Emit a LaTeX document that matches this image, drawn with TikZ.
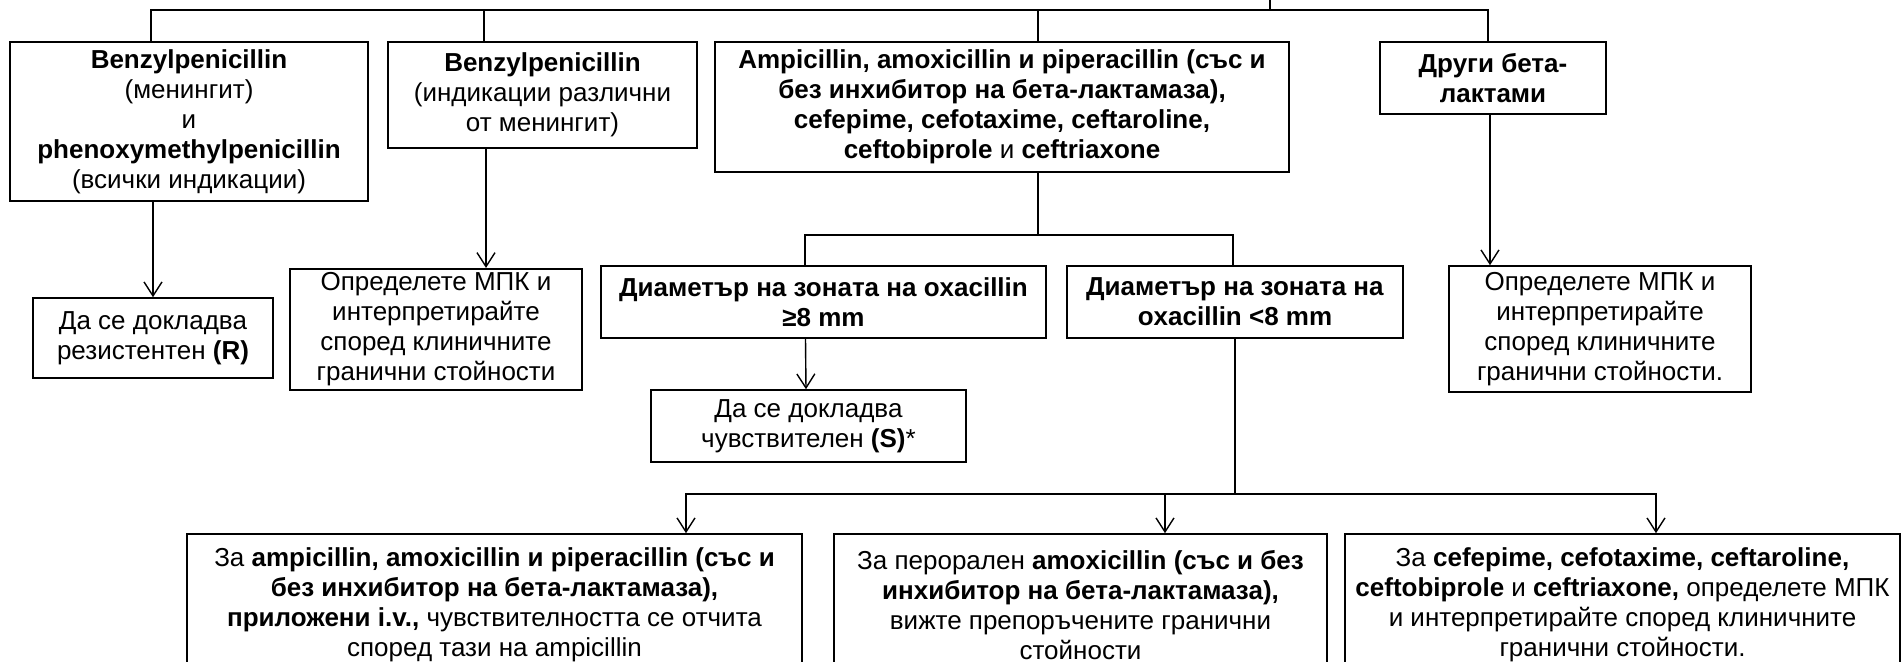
\documentclass[tikz,border=0pt]{standalone}
\usepackage{fontspec}
\setmainfont{Liberation Sans}
\usepackage{tikz}
\usetikzlibrary{arrows.meta,positioning}
\tikzset{
  box/.style={rectangle, draw=black, line width=0.8pt, fill=white, align=center,
              inner sep=2pt, font=\fontsize{13}{15}\selectfont},
  arr/.style={-{Straight Barb[length=7pt,width=9pt]}, line width=0.7pt},
  lnk/.style={line width=0.8pt},
}

\begin{document}
\begin{tikzpicture}[x=0.5pt, y=-0.5pt]
\useasboundingbox (0,0) rectangle (1903,662);

% First row
\node[box, minimum width=179pt, minimum height=79.5pt] (ben) at (189,121.5) {\textbf{Benzylpenicillin}\\(менингит)\\и\\\textbf{phenoxymethylpenicillin}\\(всички индикации)};
\node[box, minimum width=154.5pt, minimum height=53pt] (benx) at (542.5,95) {\textbf{Benzylpenicillin}\\(индикации различни\\от менингит)};
\node[box, minimum width=287pt, minimum height=65pt] (ampi) at (1002,107) {\textbf{Ampicillin, amoxicillin и piperacillin (със и}\\\textbf{без инхибитор на бета-лактамаза),}\\\textbf{cefepime, cefotaxime, ceftaroline,}\\\textbf{ceftobiprole} и \textbf{ceftriaxone}};
\node[box, minimum width=113pt, minimum height=36pt] (other) at (1493,78) {\textbf{Други бета-}\\\textbf{лактами}};

% Second row
\node[box, minimum width=120pt, minimum height=40pt] (res) at (153,338) {Да се докладва\\резистентен \textbf{(R)}};
\node[box, minimum width=146pt, minimum height=53.5pt] (mic1) at (436,329.5) {Определете МПК и\\интерпретирайте\\според клиничните\\гранични стойности};
\node[box, minimum width=222.5pt, minimum height=36pt] (zge) at (823.5,302) {\textbf{Диаметър на зоната на oxacillin}\\\textbf{≥8 mm}};
\node[box, minimum width=168pt, minimum height=36pt] (zlt) at (1235,302) {\textbf{Диаметър на зоната на}\\\textbf{oxacillin <8 mm}};
\node[box, minimum width=151pt, minimum height=63pt] (mic2) at (1600,329) {Определете МПК и\\интерпретирайте\\според клиничните\\гранични стойности.};
\node[box, minimum width=157.5pt, minimum height=36pt] (sus) at (808.5,426) {Да се докладва\\чувствителен \textbf{(S)}*};

% Bottom row
\node[box, minimum width=307.5pt, minimum height=71pt] (iv) at (494.5,605) {За \textbf{ampicillin, amoxicillin и piperacillin (със и}\\\textbf{без инхибитор на бета-лактамаза),}\\\textbf{приложени i.v.,} чувствителността се отчита\\според тази на ampicillin};
\node[box, minimum width=246.5pt, minimum height=71pt] (oral) at (1080.5,605) {За перорален \textbf{amoxicillin (със и без}\\\textbf{инхибитор на бета-лактамаза),}\\вижте препоръчените гранични\\стойности};
\node[box, minimum width=277.5pt, minimum height=71pt] (ceph) at (1622.5,605) {За \textbf{cefepime, cefotaxime, ceftaroline,}\\\textbf{ceftobiprole} и \textbf{ceftriaxone,} определете МПК\\и интерпретирайте според клиничните\\гранични стойности.};

% Branch points
\coordinate (top) at (1270,0);
\coordinate (bus) at (1270,10);
\coordinate (split) at (1038,235);
\coordinate (join) at (1235,494);

% Top bus
\draw[lnk] (top) -- (bus);
\draw[lnk] ([xshift=-19pt]ben.north) |- (bus) -| ([xshift=-2.5pt]other.north);
\draw[lnk] ([xshift=-29.25pt]benx.north) -- ++(0,-32);
\draw[lnk] ([xshift=18pt]ampi.north) -- ++(0,-32);

% Down to results
\draw[arr] ([xshift=-18pt]ben.south) -- (res.north);
\draw[arr] ([xshift=-28.25pt]benx.south) -- ([xshift=25pt]mic1.north);
\draw[arr] ([xshift=-1.5pt]other.south) -- ([xshift=-55pt]mic2.north);

% Oxacillin split
\draw[lnk] ([xshift=18pt]ampi.south) -- (split);
\draw[lnk] ([xshift=-9.25pt]zge.north) |- (split) -| ([xshift=-1pt]zlt.north);
\draw[arr] ([xshift=-9pt]zge.south) -- ([xshift=-1.25pt]sus.north);

% Bottom bus
\draw[lnk] (zlt.south) -- (join);
\draw[arr] (join) -| ([xshift=95.75pt]iv.north);
\draw[arr] (join) -| ([xshift=42.25pt]oral.north);
\draw[arr] (join) -| ([xshift=16.75pt]ceph.north);

\end{tikzpicture}
\end{document}
